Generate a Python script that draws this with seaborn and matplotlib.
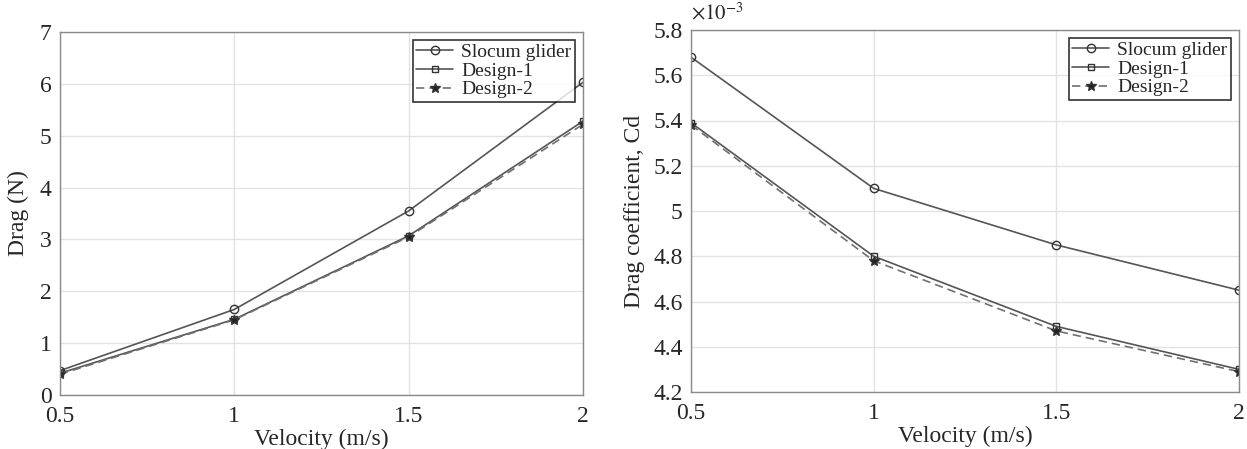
import matplotlib
matplotlib.use('Agg')
import matplotlib.pyplot as plt
import seaborn as sns
import pandas as pd
from matplotlib.ticker import FuncFormatter

# data
velocity = [0.5, 1.0, 1.5, 2.0]
series = ['Slocum glider', 'Design-1', 'Design-2']

drag_slocum = [0.47, 1.65, 3.55, 6.03]
drag_design1 = [0.42, 1.46, 3.07, 5.28]
drag_design2 = [0.40, 1.45, 3.05, 5.22]

cd_slocum = [5.68e-3, 5.10e-3, 4.85e-3, 4.65e-3]
cd_design1 = [5.39e-3, 4.80e-3, 4.49e-3, 4.30e-3]
cd_design2 = [5.38e-3, 4.78e-3, 4.47e-3, 4.29e-3]

sns.set_style('white')
plt.rcParams['font.family'] = ['Liberation Serif', 'DejaVu Serif']
plt.rcParams['mathtext.fontset'] = 'stix'

styles = {
    'Slocum glider': dict(marker='o', ls='-', ms=6, mfc='none', color='#555555'),
    'Design-1': dict(marker='s', ls='-', ms=5, mfc='none', color='#555555'),
    'Design-2': dict(marker='*', ls=(0, (5, 3)), ms=7, mfc='#222222', color='#707070'),
}


def draw(ax, values):
    for name, vals in zip(series, values):
        df = pd.DataFrame({'v': velocity, 'y': vals})
        st = styles[name]
        sns.lineplot(data=df, x='v', y='y', ax=ax, color=st['color'], lw=1.2,
                     marker=st['marker'], linestyle=st['ls'],
                     markersize=st['ms'], markerfacecolor=st['mfc'],
                     markeredgecolor='#333333', markeredgewidth=1.0,
                     label=name)
    ax.set_xlim(0.5, 2)
    ax.set_xticks([0.5, 1, 1.5, 2])
    ax.xaxis.set_major_formatter(FuncFormatter(lambda v, p: f'{v:g}'))
    ax.grid(True, color='#e2e2e2', lw=1.0)
    for s in ax.spines.values():
        s.set_color('#8a8a8a')
        s.set_linewidth(1.0)
    ax.tick_params(labelsize=17, length=0)
    ax.tick_params(axis='x', pad=8)
    ax.tick_params(axis='y', pad=6)
    ax.set_xlabel('Velocity (m/s)', fontsize=17, labelpad=1)
    leg = ax.legend(loc='upper right', fontsize=14, frameon=True, fancybox=False,
                    edgecolor='black', borderaxespad=0.4, handlelength=1.9,
                    handletextpad=0.4, borderpad=0.2, labelspacing=0.05)
    leg.get_frame().set_linewidth(1.2)


fig = plt.figure(figsize=(12.47, 4.49), dpi=100)
ax1 = fig.add_axes([60 / 1247, 1 - 395 / 449, 523 / 1247, 363 / 449])
ax2 = fig.add_axes([691 / 1247, 1 - 392 / 449, 548 / 1247, 362 / 449])

draw(ax1, [drag_slocum, drag_design1, drag_design2])
ax1.set_ylim(0, 7)
ax1.set_yticks(range(0, 8))
ax1.set_ylabel('Drag (N)', fontsize=17, labelpad=8)

draw(ax2, [cd_slocum, cd_design1, cd_design2])
ax2.set_ylim(4.2e-3, 5.8e-3)
ax2.set_yticks([4.2e-3 + 0.2e-3 * i for i in range(9)])
ax2.yaxis.set_major_formatter(FuncFormatter(lambda v, p: f'{round(v * 1e3, 1):g}'))
ax2.set_ylabel('Drag coefficient, Cd', fontsize=17, labelpad=6)
ax2.text(0.0, 1.015, r'$\times 10^{-3}$', transform=ax2.transAxes,
         fontsize=15, ha='left', va='bottom')

fig.savefig('out.png', dpi=100)
